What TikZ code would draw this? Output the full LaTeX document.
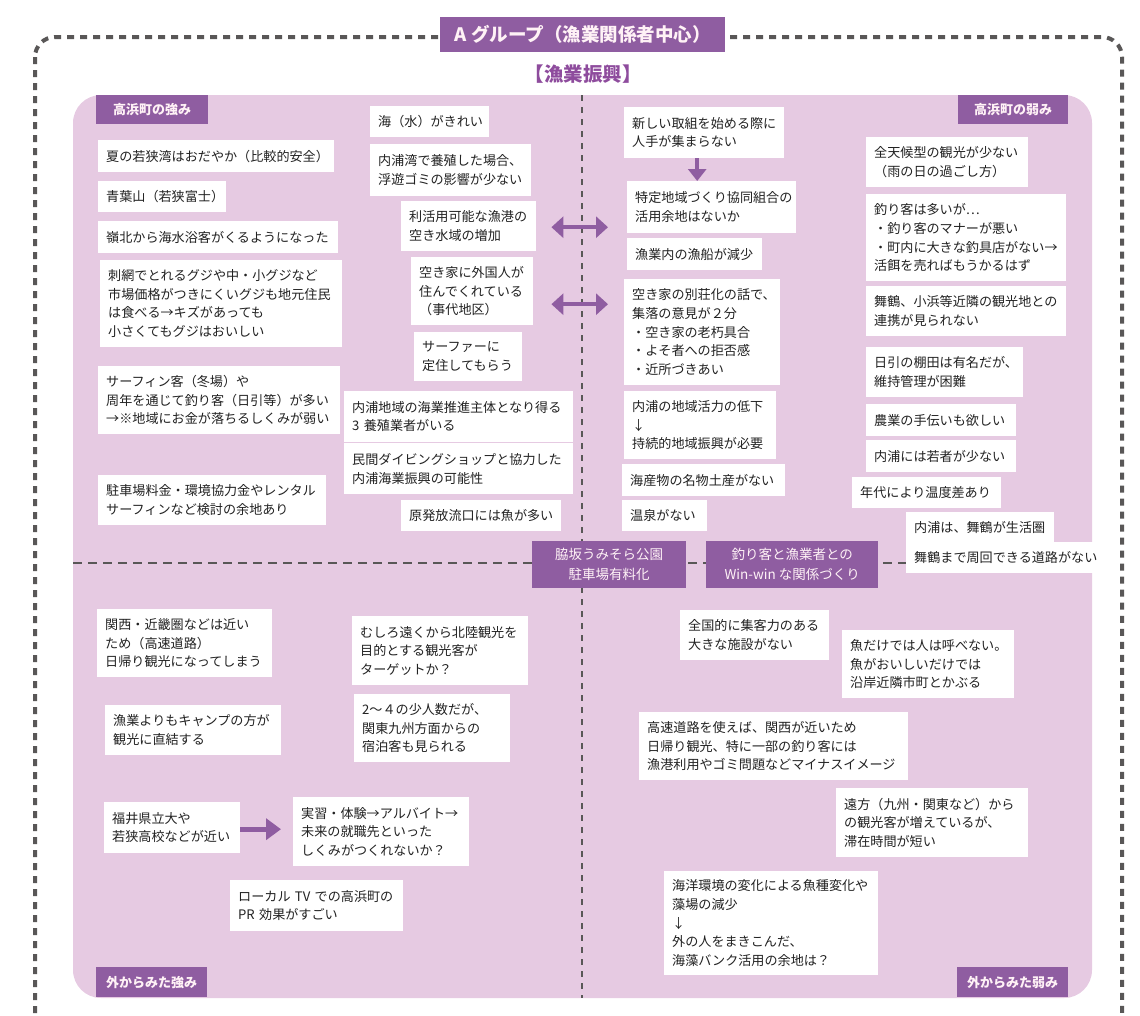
\documentclass[tikz,border=0pt]{standalone}
\usepackage{fontspec}
\setmainfont{Noto Sans CJK JP}
\usetikzlibrary{arrows.meta}
\definecolor{purp}{HTML}{8F5DA1}
\definecolor{headc}{HTML}{8E4C9D}
\definecolor{pinkbg}{HTML}{E6CAE2}
\definecolor{dgray}{HTML}{595757}
\definecolor{txt}{HTML}{222222}
\definecolor{labtxt}{HTML}{FFF2F6}
\tikzset{
  note/.style={fill=white, anchor=north west, align=left, inner xsep=8pt, inner ysep=0pt,
    font=\fontsize{13.1}{18.6}\selectfont, text=txt},
  lab/.style={fill=purp, text=labtxt, anchor=north west, inner sep=0pt, align=center,
    font=\bfseries\fontsize{13}{15}\selectfont},
  mid/.style={fill=purp, text=labtxt, anchor=north west, inner sep=0pt, align=center,
    font=\fontsize{13.5}{20}\selectfont},
  dbl/.style={draw=purp, line width=4.5pt, {Triangle[length=12pt,width=21pt]}-{Triangle[length=12pt,width=21pt]}},
  sgl/.style={draw=purp, line width=4pt, -{Triangle[length=12pt,width=18pt]}},
  thick arrow/.style={draw=purp, line width=5pt, -{Triangle[length=15pt,width=21pt]}},
}
\begin{document}
\begin{tikzpicture}[x=1pt,y=-1pt]
\useasboundingbox (0,0) rectangle (1140,1015);
\begin{scope}
\clip (0,0) rectangle (1140,1015);
\draw[dgray, line width=4pt, dash pattern=on 7pt off 6pt, rounded corners=20pt] (35,37) rectangle (1122,1040);
\end{scope}
% inner area
\fill[pinkbg, rounded corners=28pt] (73,95) rectangle (1092,998);
\draw[dgray, line width=2pt, dash pattern=on 6pt off 6pt] (582,95) -- (582,998);
\draw[dgray, line width=2.5pt, dash pattern=on 9pt off 6pt] (73,563) -- (1092,563);

% title
\node[lab, font=\bfseries\fontsize{18.5}{22}\selectfont, minimum width=285pt, minimum height=35pt] (title) at (440,17) {A グループ（漁業関係者中心）};
\node[font=\bfseries\fontsize{19.5}{22}\selectfont, text=headc, inner sep=0pt] (head) at (583,74) {【漁業振興】};

% corner labels
\node[lab, minimum width=112pt, minimum height=29pt] (lab1) at (96,95) {高浜町の強み};
\node[lab, minimum width=110pt, minimum height=29pt] (lab2) at (958,95) {高浜町の弱み};
\node[lab, minimum width=111pt, minimum height=30pt] (lab3) at (96,967) {外からみた強み};
\node[lab, minimum width=111pt, minimum height=30pt] (lab4) at (957,967) {外からみた弱み};

% centre boxes
\node[mid, minimum width=154pt, minimum height=47pt] (c1) at (532,541) {脇坂うみそら公園\\駐車場有料化};
\node[mid, minimum width=172pt, minimum height=47pt] (c2) at (706,541) {釣り客と漁業者との\\Win-win な関係づくり};

% top-left
\node[note, text width=103pt, minimum height=31pt] (tl1) at (370,106) {海（水）がきれい};
\node[note, text width=145pt, minimum height=52pt] (tl2) at (370,144) {内浦湾で養殖した場合、\\浮遊ゴミの影響が少ない};
\node[note, text width=220pt, minimum height=32pt] (tl3) at (98,140) {夏の若狭湾はおだやか（比較的安全）};
\node[note, text width=112pt, minimum height=31pt] (tl4) at (98,181) {青葉山（若狭富士）};
\node[note, text width=224pt, minimum height=32pt] (tl5) at (98,221) {嶺北から海水浴客がくるようになった};
\node[note, text width=226pt, minimum height=87pt] (tl6) at (100,260) {刺網でとれるグジや中・小グジなど\\市場価格がつきにくいグジも地元住民\\は食べる→キズがあっても\\小さくてもグジはおいしい};
\node[note, text width=119pt, minimum height=50pt] (tl7) at (401,201) {利活用可能な漁港の\\空き水域の増加};
\node[note, text width=106pt, minimum height=68pt] (tl8) at (411,257) {空き家に外国人が\\住んでくれている\\（事代地区）};
\node[note, text width=92pt, minimum height=49pt] (tl9) at (414,332) {サーファーに\\定住してもらう};
\node[note, text width=226pt, minimum height=68pt] (tl10) at (98,366) {サーフィン客（冬場）や\\周年を通じて釣り客（日引等）が多い\\→※地域にお金が落ちるしくみが弱い};
\node[note, text width=213pt, minimum height=51pt] (tl11) at (344,391) {内浦地域の海業推進主体となり得る\\3 養殖業者がいる};
\node[note, text width=213pt, minimum height=51pt] (tl12) at (344,443) {民間ダイビングショップと協力した\\内浦海業振興の可能性};
\node[note, text width=212pt, minimum height=50pt] (tl13) at (98,475) {駐車場料金・環境協力金やレンタル\\サーフィンなど検討の余地あり};
\node[note, text width=144pt, minimum height=31pt] (tl14) at (401,500) {原発放流口には魚が多い};

% top-right
\node[note, text width=144pt, minimum height=51pt] (tr1) at (624,107) {新しい取組を始める際に\\人手が集まらない};
\node[note, text width=153pt, minimum height=52pt] (tr3) at (627,181) {特定地域づくり協同組合の\\活用余地はないか};
\node[note, text width=119pt, minimum height=32pt] (tr4) at (627,238) {漁業内の漁船が減少};
\node[note, text width=140pt, minimum height=106pt] (tr5) at (624,279) {空き家の別荘化の話で、\\集落の意見が２分\\・空き家の老朽具合\\・よそ者への拒否感\\・近所づきあい};
\node[note, text width=136pt, minimum height=68pt] (tr6) at (624,391) {内浦の地域活力の低下\\↓\\持続的地域振興が必要};
\node[note, text width=147pt, minimum height=32pt] (tr7) at (622,464) {海産物の名物土産がない};
\node[note, text width=69pt, minimum height=31pt] (tr8) at (622,500) {温泉がない};
\node[note, text width=146pt, minimum height=50pt] (tr9) at (866,137) {全天候型の観光が少ない\\（雨の日の過ごし方）};
\node[note, text width=184pt, minimum height=87pt] (tr10) at (866,194) {釣り客は多いが…\\・釣り客のマナーが悪い\\・町内に大きな釣具店がない→\\活餌を売ればもうかるはず};
\node[note, text width=184pt, minimum height=50pt] (tr11) at (866,286) {舞鶴、小浜等近隣の観光地との\\連携が見られない};
\node[note, text width=141pt, minimum height=50pt] (tr12) at (866,347) {日引の棚田は有名だが、\\維持管理が困難};
\node[note, text width=134pt, minimum height=32pt] (tr13) at (866,404) {農業の手伝いも欲しい};
\node[note, text width=134pt, minimum height=32pt] (tr14) at (866,440) {内浦には若者が少ない};
\node[note, text width=133pt, minimum height=31pt] (tr15) at (852,477) {年代により温度差あり};
\node[note, text width=132pt, minimum height=30pt] (tr16) at (906,512) {内浦は、舞鶴が生活圏};
\node[note, text width=179pt, minimum height=31pt] (tr17) at (906,542) {舞鶴まで周回できる道路がない};

% bottom-left
\node[note, text width=159pt, minimum height=68pt] (bl1) at (97,609) {関西・近畿圏などは近い\\ため（高速道路）\\日帰り観光になってしまう};
\node[note, text width=160pt, minimum height=69pt] (bl2) at (352,616) {むしろ遠くから北陸観光を\\目的とする観光客が\\ターゲットか？};
\node[note, text width=160pt, minimum height=50pt] (bl3) at (105,705) {漁業よりもキャンプの方が\\観光に直結する};
\node[note, text width=140pt, minimum height=68pt] (bl4) at (354,694) {2〜４の少人数だが、\\関東九州方面からの\\宿泊客も見られる};
\node[note, text width=120pt, minimum height=51pt] (bl5) at (104,802) {福井県立大や\\若狭高校などが近い};
\node[note, text width=160pt, minimum height=69pt] (bl7) at (293,797) {実習・体験→アルバイト→\\未来の就職先といった\\しくみがつくれないか？};
\node[note, text width=157pt, minimum height=51pt] (bl8) at (230,880) {ローカル TV での高浜町の\\PR 効果がすごい};

% bottom-right
\node[note, text width=133pt, minimum height=50pt] (br1) at (680,610) {全国的に集客力のある\\大きな施設がない};
\node[note, text width=156pt, minimum height=68pt] (br2) at (842,630) {魚だけでは人は呼べない。\\魚がおいしいだけでは\\沿岸近隣市町とかぶる};
\node[note, text width=253pt, minimum height=68pt] (br3) at (639,712) {高速道路を使えば、関西が近いため\\日帰り観光、特に一部の釣り客には\\漁港利用やゴミ問題などマイナスイメージ};
\node[note, text width=176pt, minimum height=69pt] (br4) at (836,788) {遠方（九州・関東など）から\\の観光客が増えているが、\\滞在時間が短い};
\node[note, text width=198pt, minimum height=104pt] (br5) at (664,871) {海洋環境の変化による魚種変化や\\藻場の減少\\↓\\外の人をまきこんだ、\\海藻バンク活用の余地は？};

% arrows
\draw[dbl, shorten <=15pt, shorten >=19pt] ([yshift=-1pt]tl7.east) -- ([yshift=-1pt]tl7.east -| tr3.west);
\draw[dbl, shorten <=18pt, shorten >=16pt] ([yshift=-13pt]tl8.east) -- ([yshift=-13pt]tl8.east -| tr5.west);
\draw[sgl] ([xshift=-7pt]tr1.south) -- ([xshift=-7pt]tr1.south |- tr3.north);
\draw[thick arrow, shorten >=12pt] ([yshift=-1.5pt]bl5.east) -- ([yshift=-1.5pt]bl5.east -| bl7.west);
\end{tikzpicture}
\end{document}
